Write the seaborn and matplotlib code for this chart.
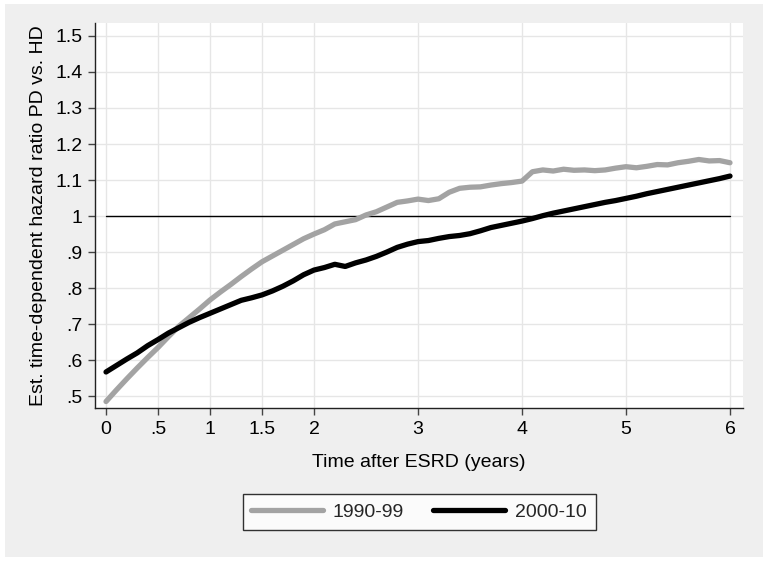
import numpy as np
import pandas as pd
import matplotlib
matplotlib.use("Agg")
import matplotlib.pyplot as plt
import seaborn as sns
from matplotlib.patches import Rectangle

# ---- data ----
time_years = [round(0.1 * i, 1) for i in range(61)]

hr_1990_99 = [0.485, 0.517, 0.548, 0.578, 0.607, 0.635, 0.665, 0.694, 0.718, 0.742,
              0.767, 0.789, 0.810, 0.832, 0.853, 0.873, 0.889, 0.905, 0.921, 0.937,
              0.950, 0.962, 0.978, 0.984, 0.990, 1.003, 1.012, 1.025, 1.038, 1.042,
              1.047, 1.043, 1.048, 1.066, 1.077, 1.080, 1.081, 1.086, 1.090, 1.093,
              1.097, 1.123, 1.128, 1.125, 1.130, 1.127, 1.128, 1.126, 1.128, 1.133,
              1.137, 1.134, 1.138, 1.143, 1.142, 1.148, 1.152, 1.157, 1.153, 1.154,
              1.148]

hr_2000_10 = [0.567, 0.585, 0.603, 0.620, 0.640, 0.657, 0.675, 0.690, 0.705, 0.718,
              0.730, 0.742, 0.754, 0.766, 0.773, 0.781, 0.792, 0.805, 0.820, 0.837,
              0.850, 0.857, 0.866, 0.860, 0.870, 0.878, 0.888, 0.900, 0.913, 0.922,
              0.929, 0.932, 0.938, 0.943, 0.946, 0.951, 0.959, 0.968, 0.974, 0.980,
              0.986, 0.993, 1.001, 1.008, 1.014, 1.020, 1.026, 1.032, 1.038, 1.043,
              1.049, 1.055, 1.062, 1.068, 1.074, 1.080, 1.086, 1.092, 1.098, 1.104,
              1.111]

series_labels = ["1990-99", "2000-10"]
x_ticks = [0, 0.5, 1, 1.5, 2, 3, 4, 5, 6]
x_tick_labels = ["0", ".5", "1", "1.5", "2", "3", "4", "5", "6"]
y_ticks = [0.5, 0.6, 0.7, 0.8, 0.9, 1.0, 1.1, 1.2, 1.3, 1.4, 1.5]
y_tick_labels = [".5", ".6", ".7", ".8", ".9", "1", "1.1", "1.2", "1.3", "1.4", "1.5"]
reference_value = 1.0

df = pd.DataFrame({
    "t": time_years * 2,
    "hr": hr_1990_99 + hr_2000_10,
    "period": [series_labels[0]] * len(time_years) + [series_labels[1]] * len(time_years),
})

# ---- style ----
sns.set_theme(style="white")
plt.rcParams["font.family"] = ["Liberation Sans", "DejaVu Sans"]
FS = 14

fig = plt.figure(figsize=(7.68, 5.62), dpi=100)
fig.patch.set_facecolor("white")
fig.patches.append(Rectangle((5 / 768, 5 / 562), 758 / 768, 553 / 562,
                             transform=fig.transFigure, facecolor="#EFEFEF",
                             edgecolor="none", zorder=-10))

ax = fig.add_axes([95 / 768, 1 - 408 / 562, (743 - 95) / 768, (408 - 23) / 562])
ax.set_facecolor("white")

sns.lineplot(data=df, x="t", y="hr", hue="period",
             palette={series_labels[0]: "#A3A3A3", series_labels[1]: "#000000"},
             linewidth=3.8, ax=ax, zorder=3)
ax.plot([0, 6], [reference_value, reference_value], color="black", lw=1.0, zorder=2)

ax.set_xlim(-0.106, 6.125)
ax.set_ylim(0.467, 1.536)
ax.set_xticks(x_ticks)
ax.set_xticklabels(x_tick_labels, fontsize=FS)
ax.set_yticks(y_ticks)
ax.set_yticklabels(y_tick_labels, fontsize=FS)
ax.grid(True, color="#E6E6E6", lw=1.0, zorder=0)
ax.set_axisbelow(True)

for s in ["top", "right"]:
    ax.spines[s].set_visible(False)
for s in ["left", "bottom"]:
    ax.spines[s].set_color("#222222")
    ax.spines[s].set_linewidth(1.0)
ax.tick_params(axis="both", which="major", length=5, width=1.0, color="#444444",
               direction="out", pad=4, labelcolor="black", bottom=True, left=True)

ax.set_xlabel("Time after ESRD (years)", fontsize=FS, labelpad=12, color="black")
ax.set_ylabel("Est. time-dependent hazard ratio PD vs. HD", fontsize=FS,
              labelpad=6, color="black")

sns.move_legend(ax, "center", bbox_to_anchor=(419 / 768, 1 - 512 / 562),
                bbox_transform=fig.transFigure, ncol=2, title=None, frameon=True,
                fontsize=FS, handlelength=3.7, handletextpad=0.5, columnspacing=1.5,
                borderpad=0.45, fancybox=False)
leg = ax.get_legend()
leg.get_frame().set_edgecolor("black")
leg.get_frame().set_linewidth(1.0)
leg.get_frame().set_facecolor("white")
for line in leg.get_lines():
    line.set_linewidth(3.8)

fig.savefig("out.png", dpi=100, facecolor=fig.get_facecolor())
